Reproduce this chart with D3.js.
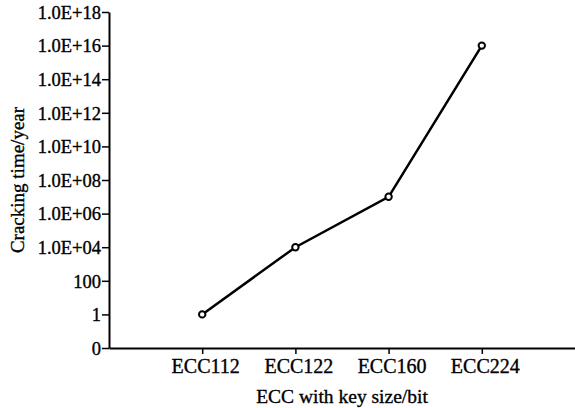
<!DOCTYPE html>
<html>
<head>
<meta charset="utf-8">
<script src="https://cdn.jsdelivr.net/npm/d3@7"></script>
<style>
  body { margin: 0; background: #fff; }
  text { font-family: "Liberation Serif", "Times New Roman", serif; fill: #000;
         stroke: #000; stroke-width: 0.35px; }
</style>
</head>
<body>
<svg width="575" height="408"></svg>
<script>
// data
var categories = ["ECC112", "ECC122", "ECC160", "ECC224"];
var crackYears = [1, 1e4, 1e7, 1e16];
// y ticks as powers of ten, bottom one is shown as "0"
var tickExps = [-2, 0, 2, 4, 6, 8, 10, 12, 14, 16, 18];
var tickLabels = ["0", "1", "100", "1.0E+04", "1.0E+06", "1.0E+08", "1.0E+10",
                  "1.0E+12", "1.0E+14", "1.0E+16", "1.0E+18"];

var svg = d3.select("svg");
var mLeft = 109, mRight = 575, mTop = 12, mBottom = 348;

var x = d3.scalePoint().domain(categories).range([mLeft, mRight]).padding(1);
var y = d3.scaleLinear().domain([-2, 18]).range([mBottom, mTop]);

// x axis
var xAxis = svg.append("g")
    .attr("transform", "translate(0," + mBottom + ")")
    .call(d3.axisBottom(x).tickSize(6).tickSizeOuter(0));
xAxis.attr("font-family", null);
xAxis.select(".domain").attr("stroke-width", 2);
xAxis.selectAll(".tick line").attr("stroke-width", 1.5);
xAxis.selectAll(".tick text")
    .attr("x", 3).attr("y", 25).attr("dy", 0)
    .attr("fill", "#000")
    .style("font-size", "20px").style("font-family", "'Liberation Serif', serif");

// y axis
var yAxis = svg.append("g")
    .attr("transform", "translate(" + mLeft + ",0)")
    .call(d3.axisLeft(y).tickValues(tickExps)
        .tickFormat(function (d, i) { return tickLabels[i]; })
        .tickSize(7).tickSizeOuter(0));
yAxis.attr("font-family", null);
yAxis.select(".domain").attr("stroke-width", 2);
yAxis.selectAll(".tick line").attr("stroke-width", 1.5);
yAxis.selectAll(".tick text")
    .attr("x", -8).attr("dy", "0.34em")
    .attr("fill", "#000")
    .style("font-size", "18.5px").style("font-family", "'Liberation Serif', serif");

// line
var pts = categories.map(function (c, i) { return { c: c, v: crackYears[i] }; });
var line = d3.line()
    .x(function (d) { return x(d.c); })
    .y(function (d) { return y(Math.log10(d.v)); });

svg.append("path").datum(pts)
    .attr("d", line)
    .attr("fill", "none")
    .attr("stroke", "#000")
    .attr("stroke-width", 2.5);

svg.selectAll("circle.pt").data(pts).enter().append("circle")
    .attr("class", "pt")
    .attr("cx", function (d) { return x(d.c); })
    .attr("cy", function (d) { return y(Math.log10(d.v)); })
    .attr("r", 3.2)
    .attr("fill", "#fff")
    .attr("stroke", "#000")
    .attr("stroke-width", 2);

// axis titles
svg.append("text")
    .attr("x", (mLeft + mRight) / 2).attr("y", 403)
    .attr("text-anchor", "middle")
    .style("font-size", "19.5px")
    .text("ECC with key size/bit");

svg.append("text")
    .attr("transform", "translate(24," + (mTop + mBottom) / 2 + ") rotate(-90)")
    .attr("text-anchor", "middle")
    .style("font-size", "19px")
    .text("Cracking time/year");
</script>
</body>
</html>
